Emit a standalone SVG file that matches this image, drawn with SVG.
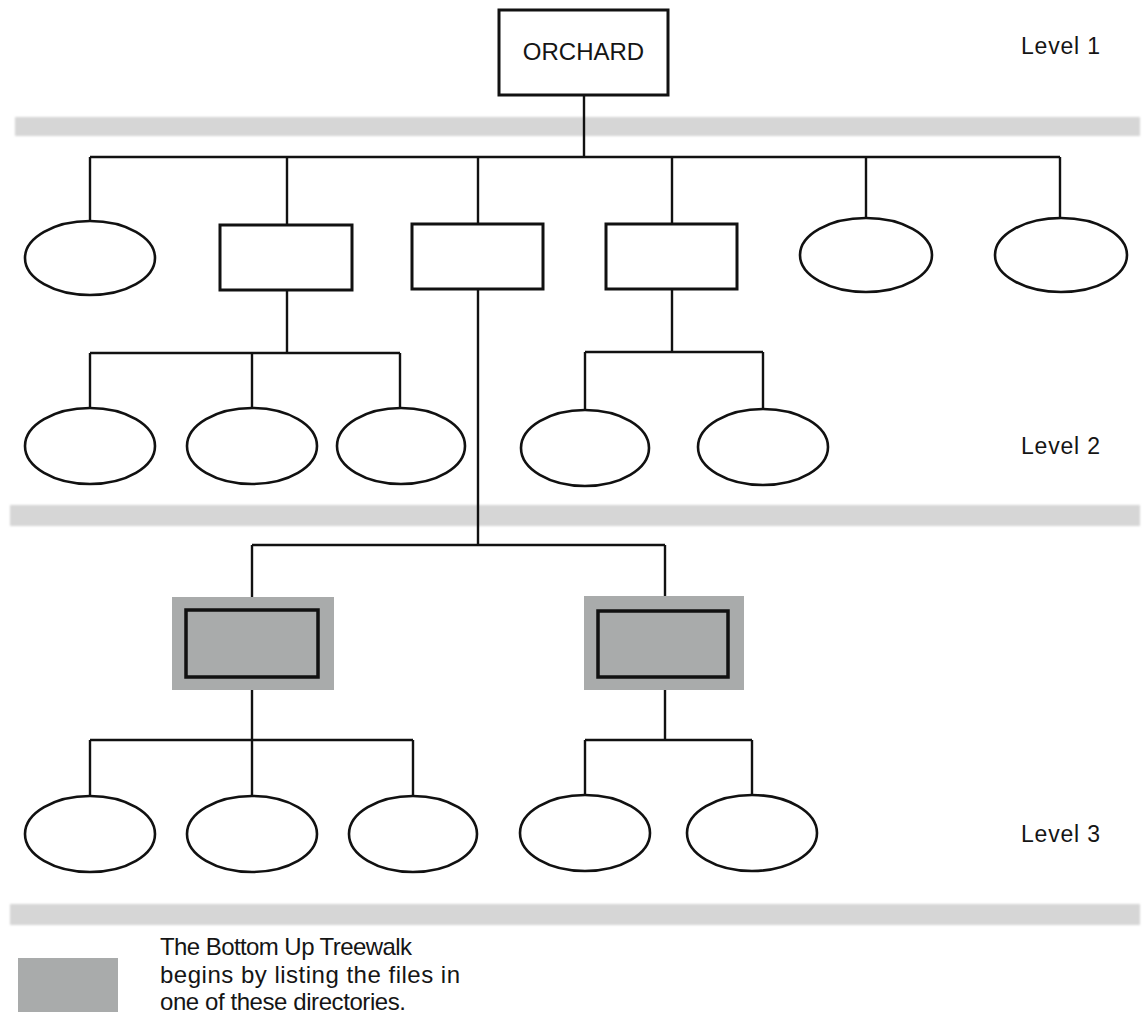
<svg xmlns="http://www.w3.org/2000/svg" width="1148" height="1021" viewBox="0 0 1148 1021">
  <style>
    .dir { fill: #ffffff; stroke: #111111; stroke-width: 3; }
    .file { fill: #ffffff; stroke: #111111; stroke-width: 2.6; }
    .hot { fill: #a9abab; stroke: #111111; stroke-width: 3.5; }
    .halo { fill: #a9abab; }
    .wire { fill: none; stroke: #111111; stroke-width: 2.4; }
    .band { fill: #d6d6d6; }
    .label { font-family: "Liberation Sans", Arial, Helvetica, sans-serif; fill: #151515; }
  </style>
  <defs>
    <filter id="soft" x="-2%" y="-40%" width="104%" height="180%">
      <feGaussianBlur stdDeviation="1.2"/>
    </filter>
  </defs>

  <rect x="0" y="0" width="1148" height="1021" fill="#ffffff"/>

  <!-- level separator bands -->
  <g id="bands" filter="url(#soft)">
    <rect class="band" x="15" y="117" width="1125" height="19"/>
    <rect class="band" x="10" y="505" width="1130" height="21"/>
    <rect class="band" x="10" y="904" width="1130" height="21"/>
  </g>

  <!-- connectors -->
  <g id="connectors">
    <!-- root to level 1 -->
    <path class="wire" d="M584 95 V157 M90 157 H1060 M90 157 V220 M287 157 V225 M478 157 V224 M672 157 V224 M866 157 V218 M1060 157 V218"/>
    <!-- left directory to its files -->
    <path class="wire" d="M287 290 V353 M90 353 H400 M90 353 V408 M252 353 V408 M400 353 V408"/>
    <!-- right directory to its files -->
    <path class="wire" d="M672 289 V352 M585 352 H763 M585 352 V410 M763 352 V410"/>
    <!-- middle directory to level 3 directories -->
    <path class="wire" d="M478 289 V545 M252 545 H665 M252 545 V610 M665 545 V611"/>
    <!-- level 3 directories to their files -->
    <path class="wire" d="M252 677 V740 M90 740 H413 M90 740 V796 M252 740 V796 M413 740 V796"/>
    <path class="wire" d="M665 677 V740 M585 740 H752 M585 740 V795 M752 740 V795"/>
  </g>

  <!-- root -->
  <g id="orchard">
    <rect class="dir" x="499" y="10" width="169" height="85"/>
    <text class="label" x="583.5" y="60" font-size="24" text-anchor="middle">ORCHARD</text>
  </g>

  <!-- level 1 -->
  <g id="l1-file-a"><ellipse class="file" cx="90" cy="258" rx="65" ry="37"/></g>
  <g id="l1-dir-a"><rect class="dir" x="220" y="225" width="132" height="65"/></g>
  <g id="l1-dir-b"><rect class="dir" x="412" y="224" width="131" height="65"/></g>
  <g id="l1-dir-c"><rect class="dir" x="606" y="224" width="131" height="65"/></g>
  <g id="l1-file-b"><ellipse class="file" cx="866" cy="255" rx="66" ry="37"/></g>
  <g id="l1-file-c"><ellipse class="file" cx="1061" cy="255" rx="66" ry="37"/></g>

  <!-- level 2 -->
  <g id="l2-file-a"><ellipse class="file" cx="90" cy="446" rx="65" ry="38"/></g>
  <g id="l2-file-b"><ellipse class="file" cx="252" cy="446" rx="65" ry="38"/></g>
  <g id="l2-file-c"><ellipse class="file" cx="401" cy="446" rx="64" ry="38"/></g>
  <g id="l2-file-d"><ellipse class="file" cx="585" cy="448" rx="64" ry="38"/></g>
  <g id="l2-file-e"><ellipse class="file" cx="763" cy="447" rx="65" ry="38"/></g>

  <!-- level 3 directories (shaded: starting points) -->
  <g id="l3-dir-a">
    <rect class="halo" x="172" y="597" width="162" height="93"/>
    <rect class="hot" x="186" y="610" width="132" height="67"/>
  </g>
  <g id="l3-dir-b">
    <rect class="halo" x="584" y="596" width="160" height="94"/>
    <rect class="hot" x="598" y="611" width="130" height="66"/>
  </g>

  <!-- level 3 files -->
  <g id="l3-file-a"><ellipse class="file" cx="90" cy="834" rx="65" ry="38"/></g>
  <g id="l3-file-b"><ellipse class="file" cx="252" cy="834" rx="65" ry="38"/></g>
  <g id="l3-file-c"><ellipse class="file" cx="413" cy="834" rx="64" ry="38"/></g>
  <g id="l3-file-d"><ellipse class="file" cx="585" cy="833" rx="65" ry="38"/></g>
  <g id="l3-file-e"><ellipse class="file" cx="752" cy="833" rx="65" ry="38"/></g>

  <!-- level labels -->
  <g id="level-labels">
    <text class="label" x="1021" y="54" font-size="23" textLength="79">Level 1</text>
    <text class="label" x="1021" y="454" font-size="23" textLength="79">Level 2</text>
    <text class="label" x="1021" y="842" font-size="23" textLength="79">Level 3</text>
  </g>

  <!-- key -->
  <g id="legend">
    <rect class="halo" x="18" y="958" width="100" height="54"/>
    <text class="label" x="160" y="955" font-size="24" textLength="252">The Bottom Up Treewalk</text>
    <text class="label" x="160" y="983" font-size="24" textLength="300">begins by listing the files in</text>
    <text class="label" x="160" y="1010" font-size="24" textLength="246">one of these directories.</text>
  </g>
</svg>
